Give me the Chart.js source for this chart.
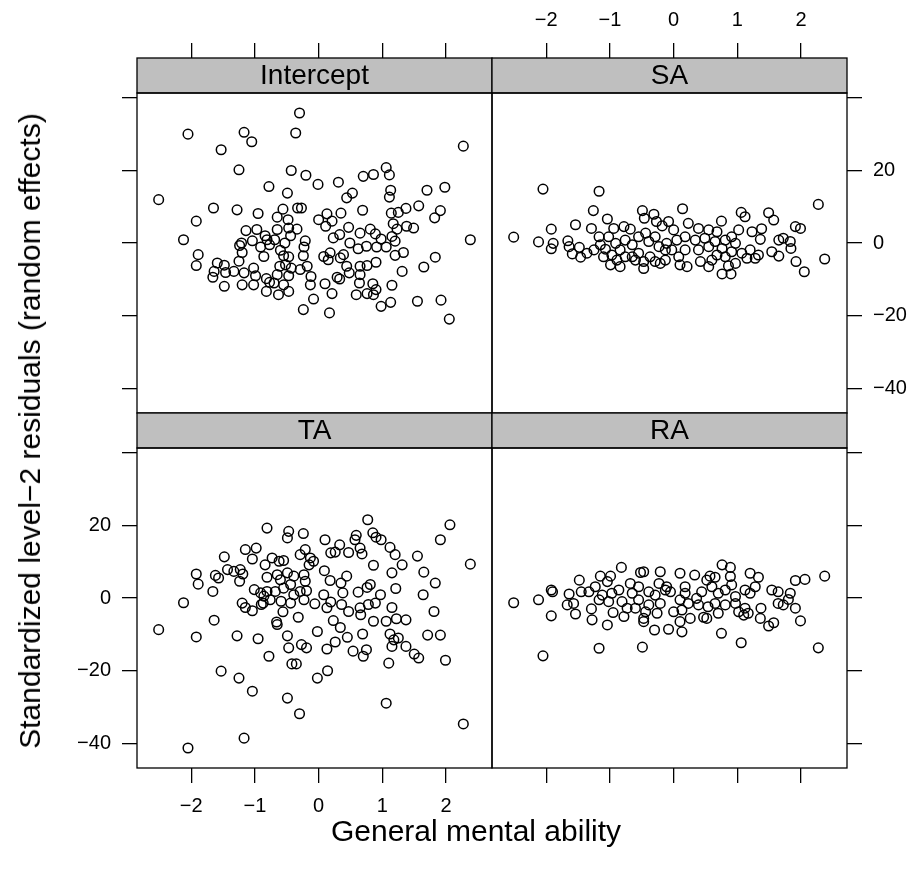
<!DOCTYPE html>
<html>
<head>
<meta charset="utf-8">
<script src="https://cdn.jsdelivr.net/npm/chart.js@4.4.0/dist/chart.umd.min.js"></script>
<style>
  html, body { margin: 0; padding: 0; background: #fff; }
  #wrap { position: relative; width: 920px; height: 875px; overflow: hidden; }
  #wrap canvas { position: absolute; left: 0; top: 0; }
  .axis-title { position: absolute; font-family: 'Liberation Sans', Arial, sans-serif; font-size: 30px; color: #000; white-space: nowrap; }
</style>
</head>
<body>
<div id="wrap">
  <canvas id="pIntercept" width="920" height="875"></canvas>
  <canvas id="pSA" width="920" height="875"></canvas>
  <canvas id="pTA" width="920" height="875"></canvas>
  <canvas id="pRA" width="920" height="875"></canvas>
  <div class="axis-title" id="xTitle" style="left:476px; top:831px; transform: translate(-50%, -50%);">General mental ability</div>
  <div class="axis-title" id="yTitle" style="left:30px; top:431px; transform: translate(-50%, -50%) rotate(-90deg);">Standardized level&minus;2 residuals (random effects)</div>
</div>
<script>
// Valeurs (x = capacité mentale, y = résidus standardisés)
const interceptX = [-0.30, -2.05, -1.17, -1.05, -0.36, -1.53, -1.25, -0.43, -0.20, -2.51, -0.78, -0.49, -1.65, -1.28, -0.95, -1.92, -2.12, -1.89, -1.92, -0.56,
  -0.33, -0.27, -0.65, -0.48, -0.47, -0.34, -1.14, -0.97, -0.84, -0.81, -1.04, -1.21, -1.24, -0.65, -0.69, -0.44, -0.53, -0.21, -0.23, -1.20,
  -0.91, -0.77, -0.60, -0.55, -0.47, -0.24, -0.86, -1.25, -1.59, -1.48, -1.64, -1.66, -1.46, -1.33, -1.02, -1.17, -0.99, -1.48, -1.20, -1.02,
  -0.82, -0.77, -0.70, -0.82, -0.61, -0.52, -0.43, -0.65, -0.47, -0.29, -0.18, -0.12, -0.13, -0.55, -0.63, -0.47, -0.08, -0.24,
  2.27, 1.06, 1.11, 0.70, 0.86, -0.01, 0.31, 1.13, 1.11, 0.53, 0.44, 1.70, 1.98, 0.69, 0.35, 0.13, 0.00, 0.21, 0.11, 1.14,
  1.25, 1.37, 1.57, 1.91, 1.82, 1.17, 1.23, 1.38, 1.49, 0.47, 0.33, 0.23, 0.65, 0.81, 0.89, 0.98, 1.15, 1.20, 0.49, 0.62,
  0.75, 0.91, 1.06, 0.08, 0.15, 0.39, 0.34, 0.18, 0.44, 0.65, 0.76, 0.90, 1.20, 1.33, 0.48, 0.29, 0.33, 0.65, 1.31, 1.65,
  1.83, 0.10, 0.64, 0.85, 1.15, 0.21, 0.59, 0.76, 0.86, 0.90, 0.98, 1.13, 1.55, 1.92, 0.17, 2.05, 2.38];
const interceptY = [35.7, 29.9, 30.4, 27.8, 30.2, 25.6, 20.1, 19.9, 18.6, 11.9, 15.5, 13.7, 9.6, 9.1, 8.1, 6.0, 0.9, -3.2, -6.2, 9.3,
  9.6, 9.6, 7.1, 6.4, 4.1, 3.8, 3.4, 3.7, 2.0, 0.9, 0.6, 0.0, -0.7, 3.7, 0.9, 2.0, 0.0, 0.6, -1.1, -2.6,
  -1.1, -0.5, -2.0, -3.5, -3.8, -3.5, -3.7, -5.0, -5.5, -6.1, -7.8, -9.4, -8.1, -7.8, -6.9, -8.2, -9.0, -11.9, -11.5, -11.5,
  -9.8, -10.8, -11.0, -13.3, -6.4, -6.0, -6.9, -8.7, -9.0, -7.3, -6.4, -9.2, -11.5, -11.5, -14.2, -13.3, -15.4, -18.3,
  26.6, 20.7, 18.7, 18.3, 18.8, 16.1, 16.7, 14.5, 12.6, 13.7, 12.4, 14.5, 15.3, 9.0, 8.2, 8.0, 6.4, 6.0, 4.6, 8.2,
  8.4, 9.5, 10.2, 8.9, 6.9, 5.3, 3.8, 4.6, 4.1, 4.3, 2.3, 1.4, 2.7, 3.8, 2.5, 1.1, 1.8, 0.5, 0.0, -1.6,
  -0.9, -1.1, -1.1, -3.7, -4.6, -3.2, -4.1, -2.7, -6.4, -6.4, -6.2, -5.3, -3.4, -2.6, -8.2, -9.4, -9.9, -8.7, -7.8, -6.6,
  -3.9, -11.2, -11.0, -11.2, -11.6, -13.9, -14.2, -13.9, -14.2, -12.8, -17.4, -16.3, -16.0, -15.7, -19.2, -20.9, 0.9];

const saX = [-2.51, -2.05, -1.17, -1.92, -2.12, -1.89, -1.92, -1.54, -1.26, -1.04, -1.29, -1.66, -1.64, -1.59, -1.48, -1.46, -1.36, -1.25, -1.17, -1.15,
  -1.07, -0.94, -0.78, -0.68, -0.49, -0.46, -0.31, -0.27, -0.18, -1.02, -0.91, -0.84, -0.76, -0.65, -0.55, -0.44, -0.39, -0.29, -0.23, -0.13,
  -0.13, -0.21, -0.47, -0.60, -0.84, -0.99, -0.76, -0.97, -0.55, -0.37, -0.47, -0.29, -1.10, -0.89, -0.65, -0.08,
  0.14, 2.27, 2.37, 2.05, 1.92, 1.91, 1.99, 1.49, 1.57, 1.06, 1.12, 0.75, 0.23, 0.00, 0.39, 0.55, 0.68, 1.02, 1.23, 1.38,
  1.36, 1.65, 1.72, 1.83, 1.84, 1.54, 1.65, 1.33, 1.20, 1.15, 1.28, 0.91, 0.81, 0.97, 0.65, 0.49, 0.34, 0.18, 0.05, -0.11,
  -0.03, 0.18, 0.39, 0.55, 0.76, 0.91, 1.07, 0.10, 0.21, 0.42, 0.60, 0.55, 0.68, 0.81, 0.76, 0.90, 0.86, 0.97, 0.08];
const saY = [1.6, 14.8, 14.2, 3.8, 0.3, -0.1, -1.6, 5.0, 8.9, 6.6, 4.0, 0.6, -1.0, -3.0, -1.2, -3.9, -2.8, -1.9, 1.7, -0.5,
  -1.7, 4.0, 4.5, 3.8, 8.9, 6.8, 7.9, 5.9, 4.7, 1.7, -0.1, -1.9, 0.8, -0.5, 1.7, 2.7, 0.4, 1.7, -1.0, -1.9,
  -4.7, -5.6, -7.0, -4.7, -6.5, -6.0, -3.8, -3.3, -2.8, -3.8, -5.1, -5.1, -3.8, -4.7, -3.8, 5.9,
  9.4, 10.6, -4.4, -7.9, -5.1, 4.5, 4.0, 8.3, 6.3, 8.4, 7.2, 6.0, 5.4, 3.6, 4.0, 3.6, 3.1, 3.6, 3.1, 3.9,
  1.0, 0.8, 1.3, 0.4, -1.5, -2.4, -3.6, -3.3, -1.9, -4.2, -4.2, 1.7, 0.8, -0.1, 0.4, 1.3, 0.8, 1.7, 0.8, -0.1,
  -1.9, -1.9, -1.9, -1.0, -1.5, -2.4, -2.8, -6.0, -6.5, -5.1, -4.7, -6.5, -3.3, -3.8, -8.5, -8.5, -6.3, -5.6, -3.8];

const taX = [-0.81, -0.47, -0.49, -0.24, -1.48, -1.15, -0.98, -1.04, -0.73, -0.62, -0.55, -0.21, -0.29, -0.13, -0.15, -1.92, -1.89, -1.62, -1.57, -1.43,
  -1.33, -1.23, -1.19, -1.24, -1.66, -2.12, -0.84, -0.81, -0.65, -0.49, -0.39, -0.60, -0.23, -0.21, -1.01, -0.91, -0.86, -0.81, -0.76, -0.87,
  -0.68, -0.55, -0.44, -0.39, -0.29, -0.19, -0.59, -0.44, -0.23, -0.06, -1.20, -1.15, -1.04, -0.90, -0.56, -0.32, -0.66, -0.65, -1.64, -2.51,
  -1.92, -1.28, -0.95, -0.49, -0.47, -0.27, -0.19, -0.02, -0.78, -0.42, -0.35, -1.53, -1.25, -1.04, -0.02, -0.49, -0.30, -1.17, -2.05,
  0.77, 2.06, 1.91, 2.38, 0.85, 0.90, 0.98, 0.59, 0.57, 0.10, 0.33, 0.19, 0.26, 0.47, 0.65, 0.68, 1.12, 1.20, 1.31, 1.55,
  1.65, 1.83, 1.64, 1.81, 0.86, 1.15, 1.21, -0.08, 0.09, 0.18, 0.35, 0.44, 0.38, 0.62, 0.76, 0.81, 0.97, 0.08, 0.19, 0.13,
  0.36, 0.47, 0.65, 0.78, 0.89, 1.15, 0.66, 0.86, 1.06, 1.22, 1.37, 0.23, 0.34, 0.45, 0.69, 1.12, 1.18, 1.15, 1.25, 1.71,
  1.91, 1.37, 1.50, 1.57, 1.99, 0.26, 0.13, 0.54, 0.70, 0.75, 1.10, 0.14, 1.06, 2.27];
const taY = [19.2, 18.3, 16.5, 17.7, 11.3, 13.3, 13.7, 10.7, 11.0, 10.1, 10.3, 13.3, 11.9, 11.0, 9.1, 6.6, 3.8, 6.2, 5.5, 7.8,
  7.3, 7.8, 6.6, 4.6, 1.8, -1.3, 9.1, 5.7, 6.4, 6.9, 6.0, 5.0, 6.4, 4.6, 2.3, 1.4, 0.5, 1.8, -0.5, -1.4,
  1.8, 2.7, 3.7, 0.9, 1.8, 2.0, -0.9, -1.4, -0.5, -1.6, -1.4, -2.6, -3.5, -1.8, -3.8, -5.3, -6.6, -7.3, -6.1, -8.7,
  -10.7, -10.4, -11.2, -10.4, -13.7, -12.8, -13.7, -9.2, -16.0, -18.1, -18.1, -20.1, -22.0, -25.6, -22.0, -27.5, -31.8, -38.5, -41.2,
  21.5, 20.1, 16.0, 9.3, 17.9, 16.7, 16.0, 17.2, 16.0, 16.0, 14.6, 12.4, 12.6, 12.5, 13.7, 12.1, 13.9, 11.9, 9.1, 11.5,
  7.1, 4.1, 0.9, -3.7, 9.0, 6.9, 2.6, 10.1, 7.5, 4.8, 4.1, 6.0, 1.4, 1.6, 2.9, 3.7, 0.9, 0.9, -1.1, -2.7,
  -1.8, -3.7, -2.7, -1.8, -1.4, -2.6, -4.6, -6.4, -6.4, -5.7, -6.0, -6.2, -8.1, -10.8, -9.9, -9.9, -11.5, -13.3, -11.0, -10.2,
  -10.2, -13.3, -15.4, -16.5, -17.1, -12.1, -14.0, -14.6, -16.0, -14.2, -17.9, -20.0, -28.9, -34.6];

const raX = [-2.51, -2.12, -1.92, -1.90, -1.92, -2.05, -1.17, -0.49, -1.64, -1.67, -1.57, -1.54, -1.48, -1.45, -1.29, -1.28, -1.04, -1.15, -0.99, -0.82,
  -1.23, -1.04, -1.33, -1.12, -1.17, -1.02, -0.95, -0.78, -0.52, -0.47, -0.21, -0.68, -0.65, -0.86, -0.97, -0.81, -0.55, -0.39, -0.23, -0.13,
  -0.29, -0.55, -0.39, -0.21, -0.60, -0.44, -0.26, -0.47, -0.47, -0.30, -0.08, -0.73,
  2.37, 2.06, 1.91, 1.99, 2.27, 1.06, 0.75, 0.13, 0.76, 0.89, 0.10, 0.33, 0.57, 0.65, 1.20, 1.33, 0.89, 1.54, 1.64, 1.83,
  1.80, 1.64, 1.72, 1.91, 1.37, 1.36, 1.49, 1.57, 1.28, 1.12, 1.20, 1.02, 1.10, 1.17, 1.12, 0.91, 0.97, 0.81, 0.70, 0.60,
  0.52, 0.44, 0.36, 0.18, 0.18, -0.11, -0.05, 0.10, 0.23, 0.39, 0.65, 0.81, 0.97, 0.00, 0.13, 0.26, 0.47, 0.52, 0.70, 0.10, 0.54];
const raY = [-1.3, -0.5, 2.2, 1.7, -4.9, -15.9, -13.8, -13.5, 1.1, -1.9, -1.5, -4.4, 4.9, 1.7, -3.0, -6.0, -7.4, 6.0, 6.0, 8.4,
  3.1, 4.5, 1.7, 0.8, -0.5, -1.0, -4.0, -5.1, 7.0, 7.2, 7.2, 4.0, 1.3, 2.2, 1.3, -1.0, 3.1, 1.7, 4.0, 2.2,
  0.8, -0.5, -1.9, -1.5, -2.8, -3.8, -4.2, -5.6, -6.5, -8.8, -8.6, -2.8,
  6.0, 5.1, 4.8, -6.3, -13.7, -12.3, -9.7, -9.3, 9.1, 8.4, 6.8, 6.3, 6.0, 5.7, 6.8, 5.7, 5.9, 2.2, 1.7, 1.3,
  -0.4, -1.5, -1.9, -2.8, -2.8, -5.6, -7.7, -6.8, 3.1, 2.2, 1.3, -3.8, -4.7, -4.2, -2.8, 3.6, 0.4, 2.2, 1.3, 3.1,
  4.9, 1.7, -0.1, 3.1, 1.3, 3.1, 1.7, -0.5, -1.5, -1.9, -1.5, -1.9, -1.5, -3.8, -3.3, -5.6, -5.3, -5.6, -4.2, -6.5, -2.4];

const panelNames = ['Intercept', 'SA', 'TA', 'RA'];
const xTicks = [-2, -1, 0, 1, 2];
const xTickLabels = ['\u22122', '\u22121', '0', '1', '2'];
const yTicks = [-40, -20, 0, 20, 40];
const yTickLabels = ['\u221240', '\u221220', '0', '20', ''];
const xLimits = [-2.85, 2.72];
const yLimits = [-46.7, 41.2];

// Géométrie
const W = 920, H = 875;
const PANEL_W = 355, PANEL_H = 320, STRIP_H = 35, TICK = 15, AXIS = 60;
const FONT = "'Liberation Sans', Arial, sans-serif";
// le haut de la zone du graphique contient la bande grise du titre
const yTop = yLimits[1] + (yLimits[1] - yLimits[0]) * STRIP_H / PANEL_H;

Chart.defaults.font.family = FONT;
Chart.defaults.color = '#000';

// Cadre + bande de titre de chaque panneau
const panelFrame = {
    id: 'panelFrame',
    afterDraw(chart, args, opts) {
        const { ctx, chartArea: a } = chart;
        const w = a.right - a.left;
        ctx.save();
        ctx.lineWidth = 1.3;
        ctx.strokeStyle = '#000';
        ctx.fillStyle = '#bfbfbf';
        ctx.fillRect(a.left, a.top, w, STRIP_H);
        ctx.strokeRect(a.left, a.top, w, STRIP_H);
        ctx.strokeRect(a.left, a.top + STRIP_H, w, a.bottom - a.top - STRIP_H);
        ctx.fillStyle = '#000';
        ctx.font = '28px ' + FONT;
        ctx.textAlign = 'center';
        ctx.textBaseline = 'middle';
        ctx.fillText(opts.label, (a.left + a.right) / 2, a.top + STRIP_H / 2 + 1);
        ctx.restore();
    }
};

const panels = [
    { id: 'pIntercept', xs: interceptX, ys: interceptY, left: 137, top: 58, xPos: 'top', yPos: 'left', xLab: false, yLab: false },
    { id: 'pSA', xs: saX, ys: saY, left: 492, top: 58, xPos: 'top', yPos: 'right', xLab: true, yLab: true },
    { id: 'pTA', xs: taX, ys: taY, left: 137, top: 413, xPos: 'bottom', yPos: 'left', xLab: true, yLab: true },
    { id: 'pRA', xs: raX, ys: raY, left: 492, top: 413, xPos: 'bottom', yPos: 'right', xLab: false, yLab: false }
];

function tickGrid() {
    return {
        drawOnChartArea: false,
        drawTicks: true,
        tickLength: TICK,
        tickWidth: 1.3,
        tickColor: '#000',
        lineWidth: 1.3,
        color: '#000'
    };
}

panels.forEach((p, i) => {
    const bottom = p.top + STRIP_H + PANEL_H;
    new Chart(document.getElementById(p.id).getContext('2d'), {
        type: 'scatter',
        data: {
            datasets: [{
                data: p.xs.map((x, k) => ({ x: x, y: p.ys[k] })),
                pointStyle: 'circle',
                pointRadius: 4.8,
                borderWidth: 1.5,
                borderColor: '#000',
                backgroundColor: 'rgba(0,0,0,0)'
            }]
        },
        options: {
            responsive: false,
            animation: false,
            events: [],
            layout: {
                padding: {
                    left: p.left - (p.yPos === 'left' ? AXIS : 0),
                    right: W - (p.left + PANEL_W) - (p.yPos === 'right' ? AXIS : 0),
                    top: p.top - (p.xPos === 'top' ? AXIS : 0),
                    bottom: H - bottom - (p.xPos === 'bottom' ? AXIS : 0)
                }
            },
            scales: {
                x: {
                    type: 'linear',
                    position: p.xPos,
                    min: xLimits[0],
                    max: xLimits[1],
                    bounds: 'data',
                    afterBuildTicks: (s) => { s.ticks = xTicks.map(v => ({ value: v })); },
                    afterFit: (s) => { s.height = AXIS; },
                    grid: tickGrid(),
                    border: { display: false },
                    ticks: {
                        display: p.xLab,
                        autoSkip: false,
                        maxRotation: 0,
                        minRotation: 0,
                        padding: 11,
                        font: { size: 20 },
                        color: '#000',
                        callback: (v) => xTickLabels[xTicks.indexOf(v)]
                    }
                },
                y: {
                    type: 'linear',
                    position: p.yPos,
                    min: yLimits[0],
                    max: yTop,
                    bounds: 'data',
                    afterBuildTicks: (s) => { s.ticks = yTicks.map(v => ({ value: v })); },
                    afterFit: (s) => { s.width = AXIS; },
                    grid: tickGrid(),
                    border: { display: false },
                    ticks: {
                        display: p.yLab,
                        autoSkip: false,
                        padding: 11,
                        font: { size: 20 },
                        color: '#000',
                        callback: (v) => yTickLabels[yTicks.indexOf(v)]
                    }
                }
            },
            plugins: {
                legend: { display: false },
                tooltip: { enabled: false },
                panelFrame: { label: panelNames[i] }
            }
        },
        plugins: [panelFrame]
    });
});
</script>
</body>
</html>
